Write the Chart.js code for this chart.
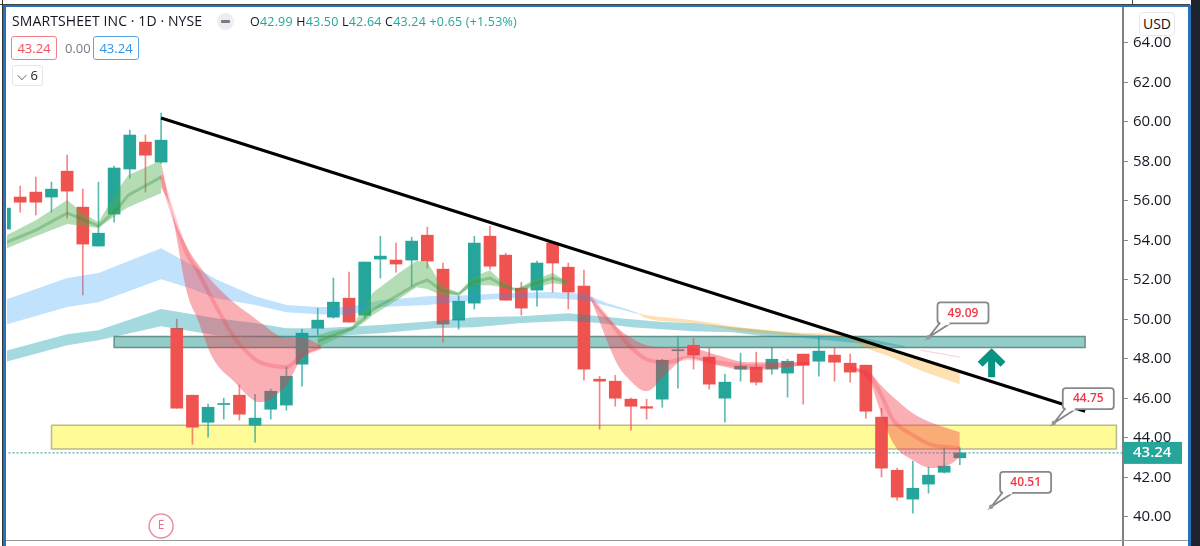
<!DOCTYPE html>
<html>
<head>
<meta charset="utf-8">
<title>SMARTSHEET INC</title>
<script src="https://cdn.jsdelivr.net/npm/chart.js@4"></script>
<style>
  html, body { margin: 0; padding: 0; background: #fff; }
  #wrap { position: relative; width: 1200px; height: 546px; overflow: hidden; font-family: "Open Sans", sans-serif; color: #131722; }
  #wrap div, #wrap span { position: absolute; white-space: nowrap; }
  canvas { position: absolute; left: 0; top: 0; }
  .pill { height: 22px; line-height: 22px; border-radius: 3px; text-align: center; font-size: 13px; background: #fff; }
</style>
</head>
<body>
<div id="wrap">
  <canvas id="myChart" width="1200" height="546"></canvas>

  <div style="left:1122px;top:7px;width:2px;height:539px;background:#808080"></div>
  <div style="left:6px;top:540px;width:1184px;height:1px;background:#999"></div>
  <div style="left:0;top:4px;width:1190px;height:1px;background:#444"></div>
  <div style="left:3px;top:5px;width:1187px;height:2px;background:#2a70b8"></div>
  <div style="left:3px;top:5px;width:3px;height:541px;background:#2a70b8"></div>
  <div style="left:2px;top:0;width:1px;height:546px;background:#333"></div>
  <div style="left:1132px;top:0;width:1px;height:4px;background:#444"></div>
  <div style="left:1188px;top:5px;width:3px;height:541px;background:#2a70b8"></div>
  <div style="left:1191px;top:0;width:9px;height:546px;background:#1e222d"></div>

  <div style="left:12px;top:11px;font-size:14px;line-height:20px;letter-spacing:.1px">SMARTSHEET INC · 1D · NYSE</div>
  <div style="left:217px;top:13px;width:17px;height:17px;border-radius:9px;background:#eeeef0"></div>
  <div style="left:221px;top:20px;width:9px;height:3px;border-radius:1px;background:#777b86"></div>
  <div id="ohlc" style="left:250px;top:13px;font-size:12.5px;line-height:18px;letter-spacing:.2px"></div>

  <div class="pill" style="left:11px;top:36px;width:44px;border:1px solid #f0808a;color:#ef5360">43.24</div>
  <div style="left:65px;top:39px;font-size:13px;line-height:18px;color:#787b86">0.00</div>
  <div class="pill" style="left:93px;top:36px;width:44px;border:1px solid #5aa5e6;color:#2e94e6">43.24</div>
  <div class="pill" style="left:12px;top:65px;width:29px;height:19px;line-height:19px;border:1px solid #e4e5e8;color:#222">⌵ 6</div>

  <div class="pill" style="left:1139px;top:12px;width:34px;height:22px;border:1px solid #e6e7ea;font-size:14px;color:#111;border-radius:4px">USD</div>
</div>

<script>
// ohlc per daily candle
const opens  = [54.57,56.19,56.44,56.19,57.50,55.68,53.71,55.33,57.61,58.97,57.96,49.55,46.16,44.79,45.69,46.16,44.64,45.45,45.66,47.73,49.55,50.11,51.07,50.21,53.05,53.00,53.00,54.26,52.54,49.96,50.82,54.21,53.25,51.58,51.48,53.86,52.64,51.68,46.97,46.87,45.96,45.58,45.96,48.41,48.69,48.09,46.01,47.48,47.58,47.48,47.28,48.24,47.88,48.19,47.78,47.68,45.05,42.36,40.90,41.66,42.26,42.99];
const highs  = [55.70,56.74,57.20,56.95,58.31,56.59,56.95,57.76,59.58,59.33,60.44,50.01,46.16,45.71,46.01,46.67,46.21,46.47,47.58,49.50,50.57,52.09,52.39,52.90,54.21,53.86,54.16,54.67,52.85,51.17,54.21,54.72,53.35,51.88,52.95,53.86,52.85,52.49,47.12,47.17,46.01,45.96,47.98,49.15,49.05,48.59,47.23,48.29,48.34,48.59,47.98,48.24,49.15,48.54,48.24,47.68,45.50,42.47,42.82,42.52,43.48,43.50];
const lows   = [54.50,55.43,55.28,55.43,55.12,51.23,53.71,54.92,57.15,56.44,57.90,45.50,43.68,44.04,44.95,44.90,43.78,44.95,45.40,46.62,49.20,50.06,49.86,50.06,52.09,52.39,51.68,52.59,48.85,49.50,50.52,52.54,50.97,50.21,50.67,51.38,50.52,46.92,44.44,45.60,44.39,44.95,45.55,46.52,47.48,46.47,44.79,46.87,46.67,47.23,46.06,45.71,47.12,46.87,46.82,45.00,42.01,40.85,40.19,41.20,42.21,42.64];
const closes = [55.63,55.93,55.93,56.59,56.49,53.81,54.36,57.66,59.33,58.31,59.07,45.50,44.54,45.55,45.74,45.20,45.00,46.36,47.12,49.30,49.96,50.87,49.86,52.90,53.20,52.80,53.96,52.95,49.76,50.92,53.86,52.69,50.97,50.57,52.85,52.85,51.38,47.48,46.87,46.01,45.60,45.50,47.93,48.46,48.19,46.72,46.82,47.63,46.82,47.98,47.88,47.68,48.39,47.83,47.33,45.35,42.47,41.00,41.45,42.11,42.57,43.24];

// moving average ribbons: candle position, upper edge, lower edge, middle
const blueIdx = [0,4,6,10,12,13.5,16,18,20,22,24,27,29.5,32,35,37,38.5,39.5,40.5];
const blueTop = [50.97,52.09,52.34,53.60,52.74,52.03,51.17,50.72,50.62,50.62,50.97,51.17,51.22,51.33,51.38,51.28,50.82,50.57,50.31];
const blueBot = [49.71,50.62,50.87,52.03,51.53,51.07,50.72,50.36,50.26,50.21,50.62,50.72,50.92,51.07,51.07,50.97,50.67,50.47,50.26];

const tealIdx = [0,4,6,10,13.5,16,18,20,24,27.5,30,33,36,38,40,42,44,46.5,48.5,51,54.6,56,57.5];
const tealTop = [48.39,49.25,49.45,50.52,50.06,49.81,49.55,49.55,49.71,49.91,50.11,50.16,50.31,50.16,50.01,49.86,49.81,49.60,49.45,49.25,49.10,48.89,48.64];
const tealBot = [47.83,48.69,48.94,49.65,49.20,49.10,49.05,49.10,49.30,49.55,49.60,49.81,49.91,49.81,49.60,49.50,49.40,49.35,49.15,49.05,48.79,48.73,48.58];

const orangeIdx = [40.5,41,44,47,50.4,53.8,54.6,56.75,58,59.1,61];
const orangeTop = [50.29,50.21,49.96,49.60,49.35,49.20,49.05,48.49,48.14,47.83,47.33];
const orangeBot = [50.26,50.06,49.81,49.40,49.20,49.05,48.69,48.04,47.58,47.23,46.72];

const green1Idx = [0,2,4,5,6,7.3,7.9,10];
const green1Top = [54.21,55.02,56.04,55.38,54.92,56.64,57.30,58.06];
const green1Bot = [53.55,54.21,54.82,54.72,54.62,55.38,55.68,56.39];
const green1Mid = [53.86,54.52,55.38,55.07,54.72,55.68,56.29,57.20];

const green2Idx = [20,21,22.2,23,23.5,25.25,26.3,27,27.9,29,29.9,31,31.8,32.7,33.75,35,35.9];
const green2Top = [49.20,49.45,49.60,50.72,51.33,52.39,52.95,52.90,51.73,51.33,52.14,52.49,51.88,51.48,51.99,52.34,51.94];
const green2Bot = [48.58,48.94,49.45,49.86,50.21,51.07,51.63,51.53,51.22,51.22,51.73,51.73,51.63,51.48,51.58,51.83,51.73];
const green2Mid = [48.89,49.20,49.55,50.06,50.47,51.28,51.78,51.99,51.48,51.28,51.88,52.09,51.73,51.48,51.78,52.09,51.88];

const red1Idx = [10,10.6,11.7,12.3,13.3,14.7,15.9,16.3,18,19,20.2];
const red1Top = [57.96,55.68,53.60,52.85,51.88,50.82,50.11,49.86,49.05,49.05,48.69];
const red1Bot = [56.69,55.63,51.22,50.06,48.04,46.82,45.91,45.81,46.67,48.04,48.54];
const red1Mid = [57.30,55.68,53.25,52.49,50.97,49.05,48.04,47.83,47.58,48.19,48.58];

const red2Idx = [37.4,39.1,39.75,41,42.3,43.6,45.5,47.4,49.5,51.4];
const red2Top = [51.12,49.60,49.20,48.69,48.59,48.59,48.19,47.83,47.83,47.83];
const red2Bot = [51.12,47.78,47.07,46.36,47.28,48.04,47.68,47.43,47.53,47.73];
const red2Mid = [51.12,49.45,48.79,47.98,47.83,48.04,47.83,47.63,47.68,47.78];

const red3Idx = [54,55.3,55.9,56.75,58,59.25,60.4,61];
const red3Top = [47.58,47.28,46.72,46.06,45.25,44.75,44.44,44.29];
const red3Bot = [47.58,46.77,45.40,43.73,42.87,42.47,42.67,43.02];
const red3Mid = [47.58,47.07,46.31,44.90,44.14,43.63,43.53,43.48];

const faintIdx = [58.5,61];
const faintVal = [48.44,48.09];

// drawings on the chart
const trendIdx = [10,69];
const trendVal = [60.19,45.35];
const tealBoxIdx = [7,69];
const tealBoxVal = [49.13,48.57];
const yellowBoxIdx = [3,71];
const yellowBoxVal = [44.64,43.44];
const calloutIdx = [59,67,63];
const calloutVal = [49.09,44.75,40.51];
const arrowIdx = [62.3,63.03,63.76];
const arrowVal = [47.73,48.29,47.07];
const earningsIdx = 10;
const earningsVal = 39.54;

const yTicks = [40,42,44,46,48,50,52,54,56,58,60,62,64];
const lastPrice = 43.24;

const UP = "#26a69a";
const DOWN = "#ef5350";

document.getElementById("ohlc").innerHTML =
  [["O","42.99"],["H","43.50"],["L","42.64"],["C","43.24"]]
    .map(p => p[0] + '<b style="position:static;font-weight:400;color:#26a69a">' + p[1] + '</b>').join(" ")
  + ' <b style="position:static;font-weight:400;color:#26a69a">+0.65 (+1.53%)</b>';

function pts(idx, vals) {
  return idx.map((x, i) => ({ x: x, y: vals[i] }));
}

function lineSet(idx, vals, color, width, order, mode) {
  return { type: "line", data: pts(idx, vals), borderColor: color, borderWidth: width, pointRadius: 0, cubicInterpolationMode: mode || "default", tension: 0, fill: false, order: order };
}

// two lines with the area between them filled
function ribbon(idx, top, bot, color, order, mode) {
  return [
    { type: "line", data: pts(idx, top), borderWidth: 0, pointRadius: 0, cubicInterpolationMode: mode || "default", tension: 0, fill: false, order: order },
    { type: "line", data: pts(idx, bot), borderWidth: 0, pointRadius: 0, cubicInterpolationMode: mode || "default", tension: 0, fill: "-1", backgroundColor: color, order: order }
  ];
}

function box(idx, vals, fill, border, order) {
  const d = [
    { x: idx[0], y: vals[0] }, { x: idx[1], y: vals[0] },
    { x: idx[1], y: vals[1] }, { x: idx[0], y: vals[1] }, { x: idx[0], y: vals[0] }
  ];
  return { type: "line", data: d, borderColor: border, borderWidth: 1.5, backgroundColor: fill, pointRadius: 0, fill: "shape", order: order };
}

const candleColors = closes.map((c, i) => c >= opens[i] ? UP : DOWN);
const wickColors = closes.map((c, i) => c >= opens[i] ? "rgba(38,166,154,0.75)" : "rgba(239,83,80,0.7)");

const datasets = [
  box(yellowBoxIdx, yellowBoxVal, "#fffb96", "#bdb98c", 100),
  box(tealBoxIdx, tealBoxVal, "rgba(0,137,123,0.42)", "rgba(90,135,130,0.9)", 99),
  { type: "line", data: pts([0, 72], [lastPrice, lastPrice]), borderColor: "#1f9c90", borderWidth: 1, borderDash: [2, 2], pointRadius: 0, fill: false, order: 98 },
  { type: "bar", data: opens.map((o, i) => ({ x: i, y: [lows[i], highs[i]] })), backgroundColor: wickColors, barThickness: 1, grouped: false, order: 90 },
  { type: "bar", data: opens.map((o, i) => ({ x: i, y: [o, closes[i]] })), backgroundColor: candleColors, barThickness: 12, grouped: false, order: 89 },
  ...ribbon(tealIdx, tealTop, tealBot, "rgba(0,151,167,0.36)", 80),
  ...ribbon(blueIdx, blueTop, blueBot, "rgba(33,150,243,0.28)", 79),
  ...ribbon(green1Idx, green1Top, green1Bot, "rgba(76,175,80,0.42)", 78),
  lineSet(green1Idx, green1Mid, "rgba(56,142,60,0.35)", 3, 77),
  ...ribbon(green2Idx, green2Top, green2Bot, "rgba(76,175,80,0.42)", 76),
  lineSet(green2Idx, green2Mid, "rgba(56,142,60,0.35)", 3, 75),
  ...ribbon(orangeIdx, orangeTop, orangeBot, "rgba(255,152,0,0.3)", 74, "monotone"),
  lineSet(faintIdx, faintVal, "rgba(242,54,69,0.25)", 1, 73),
  ...ribbon(red1Idx, red1Top, red1Bot, "rgba(242,54,69,0.4)", 72, "monotone"),
  lineSet(red1Idx, red1Mid, "rgba(242,54,69,0.25)", 4, 71, "monotone"),
  ...ribbon(red2Idx, red2Top, red2Bot, "rgba(242,54,69,0.4)", 70, "monotone"),
  lineSet(red2Idx, red2Mid, "rgba(242,54,69,0.25)", 4, 69, "monotone"),
  ...ribbon(red3Idx, red3Top, red3Bot, "rgba(242,54,69,0.4)", 68, "monotone"),
  lineSet(red3Idx, red3Mid, "rgba(242,54,69,0.25)", 4, 67, "monotone"),
  { type: "line", data: pts(trendIdx, trendVal), borderColor: "#000", borderWidth: 3, pointRadius: 0, fill: false, order: 10 },
  { type: "line", data: pts(arrowIdx, arrowVal.slice(0, 2).concat(arrowVal[0])), borderColor: "#089382", borderWidth: 7, pointRadius: 0, fill: false, order: 9 },
  { type: "line", data: pts([arrowIdx[1], arrowIdx[1]], [arrowVal[1] - 0.1, arrowVal[2]]), borderColor: "#089382", borderWidth: 7, pointRadius: 0, fill: false, order: 9 }
];

// callouts, earnings mark and last price label
const overlayPlugin = {
  id: "overlay",
  afterDraw(chart) {
    const ctx = chart.ctx, x = chart.scales.x, y = chart.scales.y;
    ctx.save();
    ctx.textAlign = "center";
    ctx.textBaseline = "middle";

    calloutIdx.forEach((idx, i) => {
      const px = x.getPixelForValue(idx), py = y.getPixelForValue(calloutVal[i]);
      const left = px + 9, top = py - 35, w = 51, h = 21;
      ctx.beginPath();
      ctx.moveTo(left + 2, top + h);
      ctx.lineTo(px, py);
      ctx.lineTo(left + 13, top + h);
      ctx.fillStyle = "#fff";
      ctx.fill();
      ctx.strokeStyle = "#888";
      ctx.lineWidth = 1.8;
      ctx.stroke();
      ctx.beginPath();
      ctx.roundRect(left, top, w, h, 3);
      ctx.fill();
      ctx.stroke();
      ctx.fillStyle = "#fff";
      ctx.fillRect(left + 3, top + h - 1.5, 9, 3);
      ctx.beginPath();
      ctx.fillStyle = "#999";
      ctx.arc(px, py, 2.2, 0, Math.PI * 2);
      ctx.fill();
      ctx.fillStyle = "#f23645";
      ctx.font = "600 12px 'Open Sans'";
      ctx.fillText(calloutVal[i].toFixed(2), left + w / 2, top + h / 2 + 0.5);
    });

    const ex = x.getPixelForValue(earningsIdx), ey = y.getPixelForValue(earningsVal);
    ctx.beginPath();
    ctx.arc(ex, ey, 12, 0, Math.PI * 2);
    ctx.strokeStyle = "#ec8ea0";
    ctx.lineWidth = 1.5;
    ctx.stroke();
    ctx.fillStyle = "#ec7085";
    ctx.font = "12px 'Open Sans'";
    ctx.fillText("E", ex, ey);

    const ly = y.getPixelForValue(lastPrice);
    ctx.fillStyle = UP;
    ctx.fillRect(x.right + 1, ly - 11, 58, 22);
    ctx.fillStyle = "#fff";
    ctx.font = "600 15px 'Open Sans'";
    ctx.textAlign = "left";
    ctx.fillText(lastPrice.toFixed(2), x.right + 10, ly);
    ctx.restore();
  }
};

const myChart = new Chart(document.getElementById("myChart"), {
  type: "line",
  data: { datasets: datasets },
  plugins: [overlayPlugin],
  options: {
    responsive: false,
    animation: false,
    layout: { padding: { left: 7, top: 8, right: 0, bottom: 5 } },
    plugins: { legend: { display: false }, tooltip: { enabled: false } },
    scales: {
      x: { type: "linear", display: false, offset: false, min: 0.16, max: 71.42 },
      y: {
        type: "linear",
        position: "right",
        min: 38.78,
        max: 65.76,
        border: { display: false },
        grid: { drawOnChartArea: false, drawTicks: true, tickLength: 5, color: "#888" },
        ticks: {
          autoSkip: false,
          padding: 5,
          color: "#131722",
          font: { family: "'Open Sans'", size: 15 },
          callback: v => v.toFixed(2)
        },
        afterBuildTicks(axis) { axis.ticks = yTicks.map(v => ({ value: v })); },
        afterFit(axis) { axis.width = 77; axis.paddingTop = 0; axis.paddingBottom = 0; }
      }
    }
  }
});
</script>
</body>
</html>
